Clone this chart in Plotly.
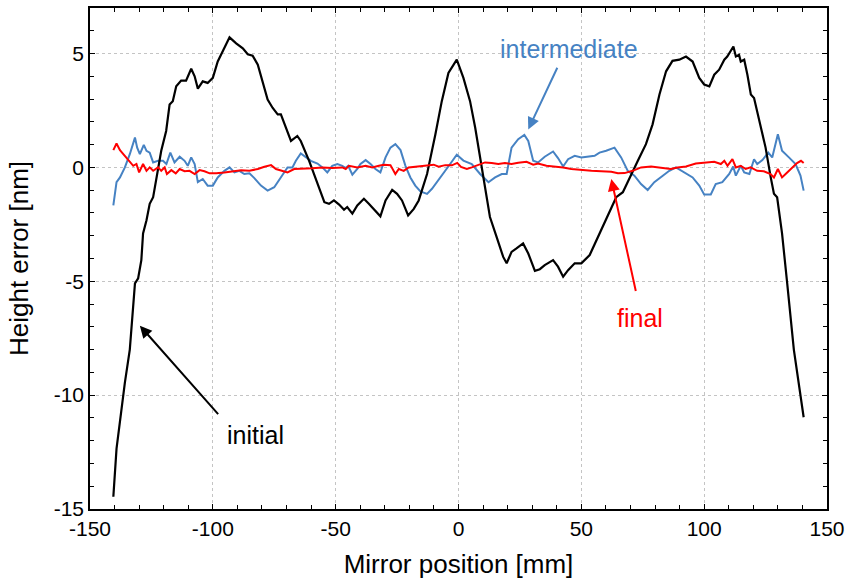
import plotly.graph_objects as go

# ---- data ----
initial_x = [-140.5, -139.2, -135.8, -133.8, -131.7, -130.4, -129.1, -128.4, -127.0, -125.7, -124.3, -123.0,
             -121.0, -119.0, -117.6, -116.3, -114.9, -112.9, -110.9, -108.8, -107.4, -106.1, -104.1, -102.1,
             -100.0, -98.0, -95.3, -93.2, -90.5, -87.8, -85.8, -83.8, -81.7, -79.7, -77.7, -75.7, -73.6, -72.3,
             -70.3, -68.2, -65.6, -64.2, -60.8, -58.4, -56.3, -54.6, -52.7, -50.7, -48.6, -46.6, -45.3, -43.2,
             -41.2, -38.5, -36.5, -34.5, -31.8, -29.7, -27.0, -25.0, -23.0, -20.5, -18.2, -16.2, -12.8, -9.4,
             -6.8, -4.1, -0.7, 2.0, 4.7, 6.8, 8.8, 10.8, 12.8, 15.5, 18.2, 19.6, 21.6, 23.6, 26.3, 28.4, 31.1,
             33.1, 35.1, 38.5, 40.5, 42.6, 44.6, 47.3, 50.0, 53.4, 56.1, 58.8, 61.5, 64.2, 66.9, 69.6, 73.0,
             76.3, 79.0, 81.8, 84.5, 87.1, 89.9, 92.6, 95.3, 98.0, 100.0, 102.1, 104.1, 106.1, 108.2, 109.4,
             110.9, 111.9, 112.9, 114.2, 114.9, 116.3, 117.6, 119.0, 120.3, 122.4, 125.0, 127.1, 128.4, 129.7,
             131.7, 133.8, 136.5, 140.5]
initial_y = [-14.46, -12.35, -9.45, -8.0, -5.09, -4.87, -4.07, -2.90, -2.32, -1.60, -1.31, -0.44,
             0.73, 1.60, 2.76, 2.91, 3.56, 3.81, 3.81, 4.33, 4.00, 3.46, 3.78, 3.71,
             3.93, 4.65, 5.23, 5.71, 5.45, 5.23, 4.97, 4.91, 4.51, 3.78, 2.98, 2.62, 2.33, 2.33,
             1.74, 1.16, 1.38, 1.16, 0.29, -0.44, -1.02, -1.53, -1.60, -1.45, -1.63, -1.86, -1.74, -2.03,
             -1.67, -1.38, -1.60, -1.82, -2.15, -1.45, -0.99, -1.16, -1.45, -2.11, -1.82, -1.45, -0.29, 1.46,
             2.91, 4.15, 4.73, 3.93, 2.91, 1.74, 0.44, -0.87, -2.18, -3.05, -3.93, -4.21, -3.71, -3.56, -3.34,
             -3.78, -4.54, -4.47, -4.29, -4.07, -4.36, -4.80, -4.51, -4.21, -4.21, -3.85, -3.20, -2.62, -1.89,
             -1.31, -1.09, -0.51, 0.29, 1.02, 1.89, 3.20, 4.22, 4.68, 4.73, 4.87, 4.65, 3.93, 3.64, 3.56,
             4.07, 4.29, 4.73, 4.87, 5.16, 5.31, 4.87, 4.94, 4.65, 4.73, 4.07, 3.20, 3.05, 2.04, 0.87, -0.44,
             -1.16, -1.31, -2.90, -5.09, -8.0, -10.97]

intermediate_x = [-140.5, -139.2, -137.8, -135.8, -133.8, -131.7, -130.8, -129.7, -128.1, -127.0, -125.7,
                  -124.3, -122.3, -120.3, -118.9, -117.3, -115.6, -113.5, -111.5, -110.2, -108.8, -107.4,
                  -106.1, -104.1, -102.1, -100.0, -98.0, -95.3, -93.2, -91.2, -89.2, -87.2, -85.1, -83.1,
                  -80.4, -77.7, -75.0, -72.3, -69.6, -67.6, -66.2, -64.2, -62.2, -60.1, -57.4, -55.4, -53.4,
                  -51.4, -49.3, -47.3, -45.9, -44.9, -43.2, -41.2, -39.9, -37.8, -35.8, -33.8, -31.8, -29.7,
                  -27.7, -25.7, -23.6, -21.6, -19.6, -17.6, -15.5, -12.8, -10.8, -8.8, -6.1, -3.4, -0.7, 2.0,
                  5.4, 8.8, 12.2, 14.9, 17.6, 19.6, 21.6, 24.3, 26.8, 28.4, 30.4, 32.4, 35.1, 38.5, 40.5,
                  42.6, 44.6, 47.3, 50.0, 52.7, 55.4, 57.4, 60.1, 63.5, 66.2, 68.9, 71.6, 74.3, 77.0, 79.7,
                  82.4, 85.8, 88.5, 91.9, 95.3, 98.0, 100.0, 102.7, 104.7, 107.4, 110.2, 111.8, 112.9, 114.9,
                  116.3, 118.4, 120.3, 121.6, 123.7, 126.1, 127.7, 130.0, 131.7, 134.5, 137.2, 139.2, 140.5]
intermediate_y = [-1.67, -0.65, -0.44, 0.0, 0.58, 1.31, 0.87, 0.58, 0.99, 0.73, 0.65,
                  0.22, 0.29, 0.29, 0.15, 0.65, 0.22, 0.47, 0.29, 0.07, 0.44, 0.15,
                  -0.65, -0.51, -0.80, -0.80, -0.44, -0.15, 0.0, -0.22, -0.15, -0.29, -0.26, -0.47,
                  -0.80, -1.02, -0.87, -0.44, 0.0, 0.0, 0.29, 0.61, 0.44, 0.29, 0.17, 0.0, -0.22,
                  0.07, 0.15, 0.07, -0.03, 0.07, -0.32, -0.07, 0.15, 0.32, 0.15, -0.07, -0.22, 0.44,
                  0.87, 1.02, 0.76, 0.07, -0.44, -0.80, -1.05, -1.16, -0.94, -0.65, -0.29, 0.15, 0.56, 0.30,
                  0.15, -0.29, -0.65, -0.44, -0.29, -0.29, 0.87, 1.24, 1.43, 1.16, 0.29, 0.22, 0.47, 0.70, 0.41,
                  0.04, 0.36, 0.51, 0.44, 0.47, 0.51, 0.65, 0.73, 0.87, 0.44, -0.15, -0.36, -0.73, -0.99, -0.65,
                  -0.44, -0.15, 0.0, -0.22, -0.44, -0.80, -1.19, -1.19, -0.73, -0.65, -0.29, 0.04, -0.36, 0.07,
                  -0.22, -0.29, 0.36, 0.15, 0.32, 0.65, 0.44, 1.46, 0.73, 0.44, 0.15, -0.36, -1.02]

final_x = [-140.5, -139.2, -137.8, -135.8, -133.8, -132.4, -131.1, -130.0, -128.4, -127.0, -125.7, -124.3,
           -122.3, -121.0, -119.6, -118.7, -116.9, -115.1, -113.5, -111.5, -109.5, -107.4, -105.4, -103.4,
           -101.3, -98.6, -95.3, -91.9, -88.5, -85.1, -81.7, -79.0, -76.3, -74.3, -71.6, -69.6, -66.9, -63.5,
           -59.5, -55.4, -51.4, -47.3, -45.9, -44.6, -41.2, -37.8, -35.1, -32.4, -30.4, -27.7, -25.7, -24.3,
           -22.3, -20.3, -17.6, -13.5, -10.1, -8.1, -5.4, -2.7, -0.5, 1.0, 3.4, 5.4, 8.1, 10.8, 13.5, 16.2,
           18.9, 21.6, 24.3, 27.7, 30.4, 32.4, 35.8, 39.2, 42.6, 45.9, 50.0, 54.1, 58.1, 62.2, 64.9, 67.6,
           70.9, 74.3, 78.4, 82.4, 86.4, 89.2, 92.6, 96.6, 100.0, 104.1, 106.8, 108.2, 109.5, 111.5, 112.9,
           114.9, 116.9, 118.9, 121.6, 124.3, 127.0, 128.4, 130.0, 131.7, 133.8, 135.8, 137.8, 139.4, 140.5]
final_y = [0.76, 1.05, 0.76, 0.51, 0.29, 0.07, 0.15, -0.22, 0.15, -0.15, 0.0, -0.15,
           0.0, -0.15, 0.0, -0.29, -0.12, -0.26, -0.07, -0.17, -0.15, -0.29, -0.12, -0.17,
           -0.26, -0.26, -0.22, -0.17, -0.12, -0.15, -0.07, 0.03, 0.10, -0.07, -0.15, -0.22, -0.07, -0.07,
           -0.04, 0.0, -0.03, 0.0, -0.07, 0.07, 0.0, 0.07, 0.0, 0.07, 0.12, 0.10, -0.29, -0.07,
           -0.15, 0.0, 0.04, 0.07, 0.12, 0.03, 0.10, 0.09, 0.20, 0.02, -0.07, 0.0, 0.12, 0.22, 0.19, 0.15,
           0.19, 0.15, 0.20, 0.25, 0.12, 0.17, 0.07, 0.04, 0.0, -0.07, -0.12, -0.15, -0.17, -0.19, -0.26, -0.25,
           -0.15, 0.0, 0.04, 0.0, -0.07, 0.0, 0.04, 0.17, 0.22, 0.25, 0.15, 0.29, 0.07, 0.36, 0.0,
           0.07, -0.07, 0.0, -0.15, -0.17, -0.29, -0.44, -0.07, -0.44, -0.22, 0.0, 0.19, 0.29, 0.19]

x_ticks = [-150, -100, -50, 0, 50, 100, 150]
x_tick_labels = ["-150", "-100", "-50", "0", "50", "100", "150"]
y_ticks = [-15, -10, -5, 0, 5]
y_tick_labels = ["-15", "-10", "-5", "0", "5"]

BLUE = "#4682c3"
FONT = "Liberation Sans, Arial, sans-serif"

fig = go.Figure()
fig.add_trace(go.Scatter(x=intermediate_x, y=intermediate_y, mode="lines",
                         line=dict(color=BLUE, width=2), name="intermediate"))
fig.add_trace(go.Scatter(x=initial_x, y=initial_y, mode="lines",
                         line=dict(color="black", width=2.2), name="initial"))
fig.add_trace(go.Scatter(x=final_x, y=final_y, mode="lines",
                         line=dict(color="red", width=2), name="final"))

axis_common = dict(
    showgrid=True, gridcolor="#c4c4c4", griddash="dot", gridwidth=1,
    zeroline=False, showline=True, linecolor="black", linewidth=1.5,
    mirror="allticks", ticks="inside", ticklen=5, tickcolor="black", tickwidth=1,
    tickfont=dict(size=21, color="black", family=FONT),
)

fig.update_xaxes(range=[-150, 150], tickvals=x_ticks, ticktext=x_tick_labels,
                 minor=dict(dtick=10, ticks="inside", ticklen=4, tickcolor="black", showgrid=False),
                 title=dict(text="Mirror position [mm]", font=dict(size=26, family=FONT), standoff=16),
                 **axis_common)
fig.update_yaxes(range=[-15, 7], tickvals=y_ticks, ticktext=y_tick_labels,
                 minor=dict(dtick=1, ticks="inside", ticklen=4, tickcolor="black", showgrid=False),
                 title=dict(text="Height error [nm]", font=dict(size=26, family=FONT), standoff=18),
                 **axis_common)

annotations = [
    # texts
    dict(x=45.0, y=5.18, text="intermediate", showarrow=False, font=dict(size=25, color=BLUE, family=FONT)),
    dict(x=-82.7, y=-11.74, text="initial", showarrow=False, font=dict(size=25, color="black", family=FONT)),
    dict(x=74.0, y=-6.61, text="final", showarrow=False, font=dict(size=25, color="red", family=FONT)),
    # arrows
    dict(x=28.4, y=1.67, ax=40.5, ay=4.44, axref="x", ayref="y", text="", showarrow=True,
         arrowhead=2, arrowsize=1.2, arrowwidth=2, arrowcolor=BLUE),
    dict(x=-129.7, y=-6.95, ax=-97.3, ay=-10.9, axref="x", ayref="y", text="", showarrow=True,
         arrowhead=2, arrowsize=1.2, arrowwidth=2, arrowcolor="black"),
    dict(x=62.2, y=-0.51, ax=72.3, ay=-5.49, axref="x", ayref="y", text="", showarrow=True,
         arrowhead=2, arrowsize=1.2, arrowwidth=2, arrowcolor="red"),
]

fig.update_layout(
    width=851, height=580,
    margin=dict(l=90, r=21, t=6, b=69),
    plot_bgcolor="white", paper_bgcolor="white",
    showlegend=False,
    font=dict(family=FONT, color="black"),
    annotations=annotations,
)

fig.write_html("out.html")
